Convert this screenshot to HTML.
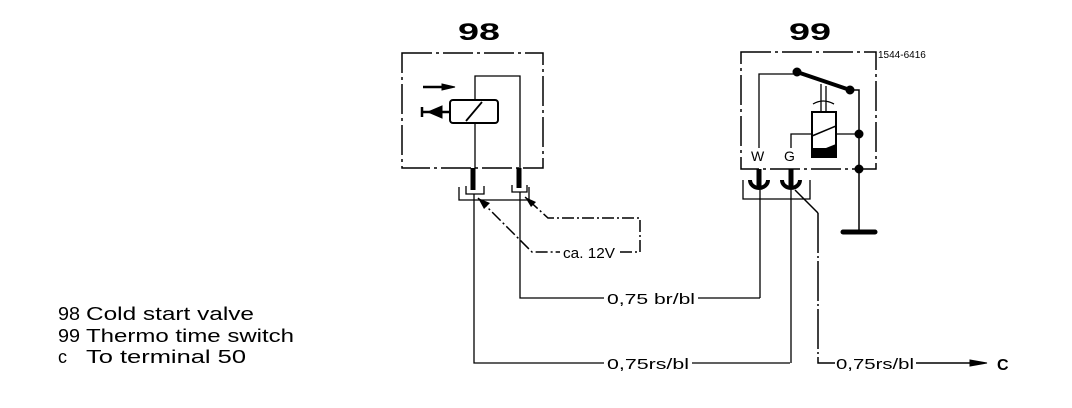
<!DOCTYPE html>
<html><head><meta charset="utf-8"><style>
html,body{margin:0;padding:0;background:#fff;}
svg{display:block}
text{font-family:"Liberation Sans",sans-serif;fill:#000}
</style></head><body>
<svg width="1072" height="408" viewBox="0 0 1072 408" xmlns="http://www.w3.org/2000/svg">
<g stroke="#000" fill="none">
<rect x="402" y="53" width="141" height="115" stroke-width="1.5" stroke-dasharray="30,4,3,4"/>
<path d="M475 168 V76 H520 V168" stroke-width="1.3"/>
<rect x="450" y="100" width="48" height="23" rx="3" stroke-width="2" fill="#fff"/>
<path d="M466 121 L482 102" stroke-width="1.8"/>
<path d="M423 87 H448" stroke-width="2.5"/>
<path d="M442 84 L455 87 L442 90 Z" fill="#000"/>
<path d="M422 112 H450 M422 107 V117" stroke-width="2.5"/>
<path d="M428 112 L442 106 V118 Z" fill="#000"/>
<path d="M473 168 V190 M519 168 V188" stroke-width="5"/>
<path d="M466 186 V194 H484 V186 M512 185 V192 H527 V185" stroke-width="1.3"/>
<path d="M459 187 V200 H529 V187" stroke-width="1.3"/>
<path d="M474 194 V363 H790" stroke-width="1.3"/>
<path d="M520 192 V298 H760" stroke-width="1.3"/>
<path d="M478 198 L532 252 H560 M620 252 H640 V218 H548 L525 197" stroke-width="1.5" stroke-dasharray="12,3,2,3"/>
<path d="M478 198 L490 203 L484 209 Z M525 197 L536 202 L531 207 Z" fill="#000" stroke="none"/>
<rect x="741" y="52" width="135" height="117" stroke-width="1.5" stroke-dasharray="30,4,3,4"/>
<path d="M759 148 V74 H797" stroke-width="1.3"/>
<path d="M797 72 L850 90" stroke-width="4"/>
<circle cx="797" cy="72" r="4" fill="#000"/>
<circle cx="850" cy="90" r="4" fill="#000"/>
<path d="M850 90 H859 V232" stroke-width="1.5"/>
<path d="M821 84 V112 M826 86 V112" stroke-width="1.3"/>
<path d="M813 104 Q823 98 834 104" stroke-width="1.3"/>
<rect x="812" y="112" width="24" height="45" stroke-width="2" fill="#fff"/>
<path d="M812 136 L836 126" stroke-width="1.5"/>
<path d="M813 156 V148 H826 L813 156 Z M826 148 L836 144 V156 H813" fill="#000" stroke="none"/>
<path d="M791 148 V134 H812 M836 134 H859" stroke-width="1.3"/>
<circle cx="859" cy="134" r="4" fill="#000"/>
<circle cx="859" cy="169" r="4" fill="#000"/>
<path d="M843 232 H875" stroke-width="5" stroke-linecap="round"/>
<path d="M759 169 V186 M791 169 V186" stroke-width="5"/>
<path d="M750 180 A9 8 0 0 0 768 180 M782 180 A9 8 0 0 0 800 180" stroke-width="4"/>
<path d="M743 180 V199 H810 V180" stroke-width="1.3"/>
<path d="M760 190 V298 M791 190 V363" stroke-width="1.3"/>
<path d="M795 190 L818 213" stroke-width="1.5"/>
<path d="M818 213 V363 H835" stroke-width="1.5" stroke-dasharray="40,3,2,3"/>
<path d="M916 363 H975" stroke-width="1.5"/>
<path d="M970 360 L987 363 L970 366 Z" fill="#000"/>
</g>
<rect x="604" y="289" width="94" height="18" fill="#fff"/>
<rect x="604" y="354" width="88" height="18" fill="#fff"/>
<g font-size="15">
<text x="607" y="304" textLength="88" lengthAdjust="spacingAndGlyphs">0,75 br/bl</text>
<text x="607" y="369" textLength="82" lengthAdjust="spacingAndGlyphs">0,75rs/bl</text>
<text x="836" y="369" textLength="78" lengthAdjust="spacingAndGlyphs">0,75rs/bl</text>
<text x="563" y="258" textLength="52" lengthAdjust="spacingAndGlyphs">ca. 12V</text>
</g>
<text x="997" y="370" font-size="16" font-weight="bold">C</text>
<text x="751" y="161" font-size="14">W</text>
<text x="784" y="161" font-size="14">G</text>
<text x="878" y="58" font-size="10">1544-6416</text>
<text x="458" y="40" font-size="24" font-weight="bold" textLength="42" lengthAdjust="spacingAndGlyphs">98</text>
<text x="789" y="40" font-size="24" font-weight="bold" textLength="42" lengthAdjust="spacingAndGlyphs">99</text>
<g font-size="18">
<text x="58" y="320" textLength="22" lengthAdjust="spacingAndGlyphs">98</text>
<text x="86" y="320" textLength="168" lengthAdjust="spacingAndGlyphs">Cold start valve</text>
<text x="58" y="342" textLength="22" lengthAdjust="spacingAndGlyphs">99</text>
<text x="86" y="342" textLength="208" lengthAdjust="spacingAndGlyphs">Thermo time switch</text>
<text x="58" y="363">c</text>
<text x="86" y="363" textLength="160" lengthAdjust="spacingAndGlyphs">To terminal 50</text>
</g>
</svg>
</body></html>
